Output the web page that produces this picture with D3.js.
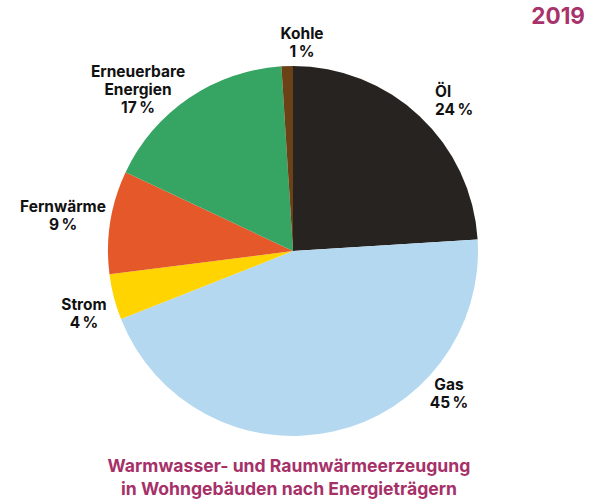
<!DOCTYPE html>
<html>
<head>
<meta charset="utf-8">
<script src="https://cdn.jsdelivr.net/npm/d3@7"></script>
<style>
  body { margin: 0; background: #fff; }
  svg text { font-family: Inter, "Liberation Sans", Arial, sans-serif; font-weight: bold; }
</style>
</head>
<body>
<svg id="chart" width="598" height="501"></svg>
<script>
// shares in percent, clockwise from 12 o'clock
const sources = ["Öl", "Gas", "Strom", "Fernwärme", "Erneuerbare Energien", "Kohle"];
const shares = [24, 45, 4, 9, 17, 1];
const colors = ["#272320", "#b5d8f1", "#ffd400", "#e5582a", "#36a463", "#6b4218"];
// label lines and placement for each slice
const labelLines = [["Öl"], ["Gas"], ["Strom"], ["Fernwärme"], ["Erneuerbare", "Energien"], ["Kohle"]];
const labelPos = [[435, 97, "start"], [449, 390, "middle"], [84, 310, "middle"], [63, 212, "middle"], [138, 77, "middle"], [302, 39, "middle"]];
const titleLines = ["Warmwasser- und Raumwärmeerzeugung", "in Wohngebäuden nach Energieträgern"];
const year = "2019";

const svg = d3.select("#chart");
const cx = 293, cy = 251, radius = 185;

const pie = d3.pie().sort(null).value(d => d);
const arc = d3.arc().innerRadius(0).outerRadius(radius);

const g = svg.append("g").attr("transform", `translate(${cx},${cy})`);
g.selectAll("path")
  .data(pie(shares))
  .join("path")
  .attr("d", arc)
  .attr("fill", (d, i) => colors[i]);

// slice labels: name lines, then the percentage
const lineH = 18;
sources.forEach((s, i) => {
  const [x, y, anchor] = labelPos[i];
  const t = svg.append("text")
    .attr("x", x).attr("y", y)
    .attr("text-anchor", anchor)
    .attr("font-size", 15.5)
    .attr("fill", "#111");
  const lines = labelLines[i].concat([shares[i] + "\u2009%"]);
  lines.forEach((l, j) => {
    t.append("tspan").attr("x", x).attr("dy", j === 0 ? 0 : lineH).text(l);
  });
});

svg.append("text")
  .attr("x", 585).attr("y", 24)
  .attr("text-anchor", "end")
  .attr("font-size", 22.5)
  .attr("fill", "#a8336a")
  .text(year);

titleLines.forEach((l, j) => {
  svg.append("text")
    .attr("x", 289).attr("y", 472 + j * 23)
    .attr("text-anchor", "middle")
    .attr("font-size", 17.6)
    .attr("fill", "#a63068")
    .text(l);
});
</script>
</body>
</html>
